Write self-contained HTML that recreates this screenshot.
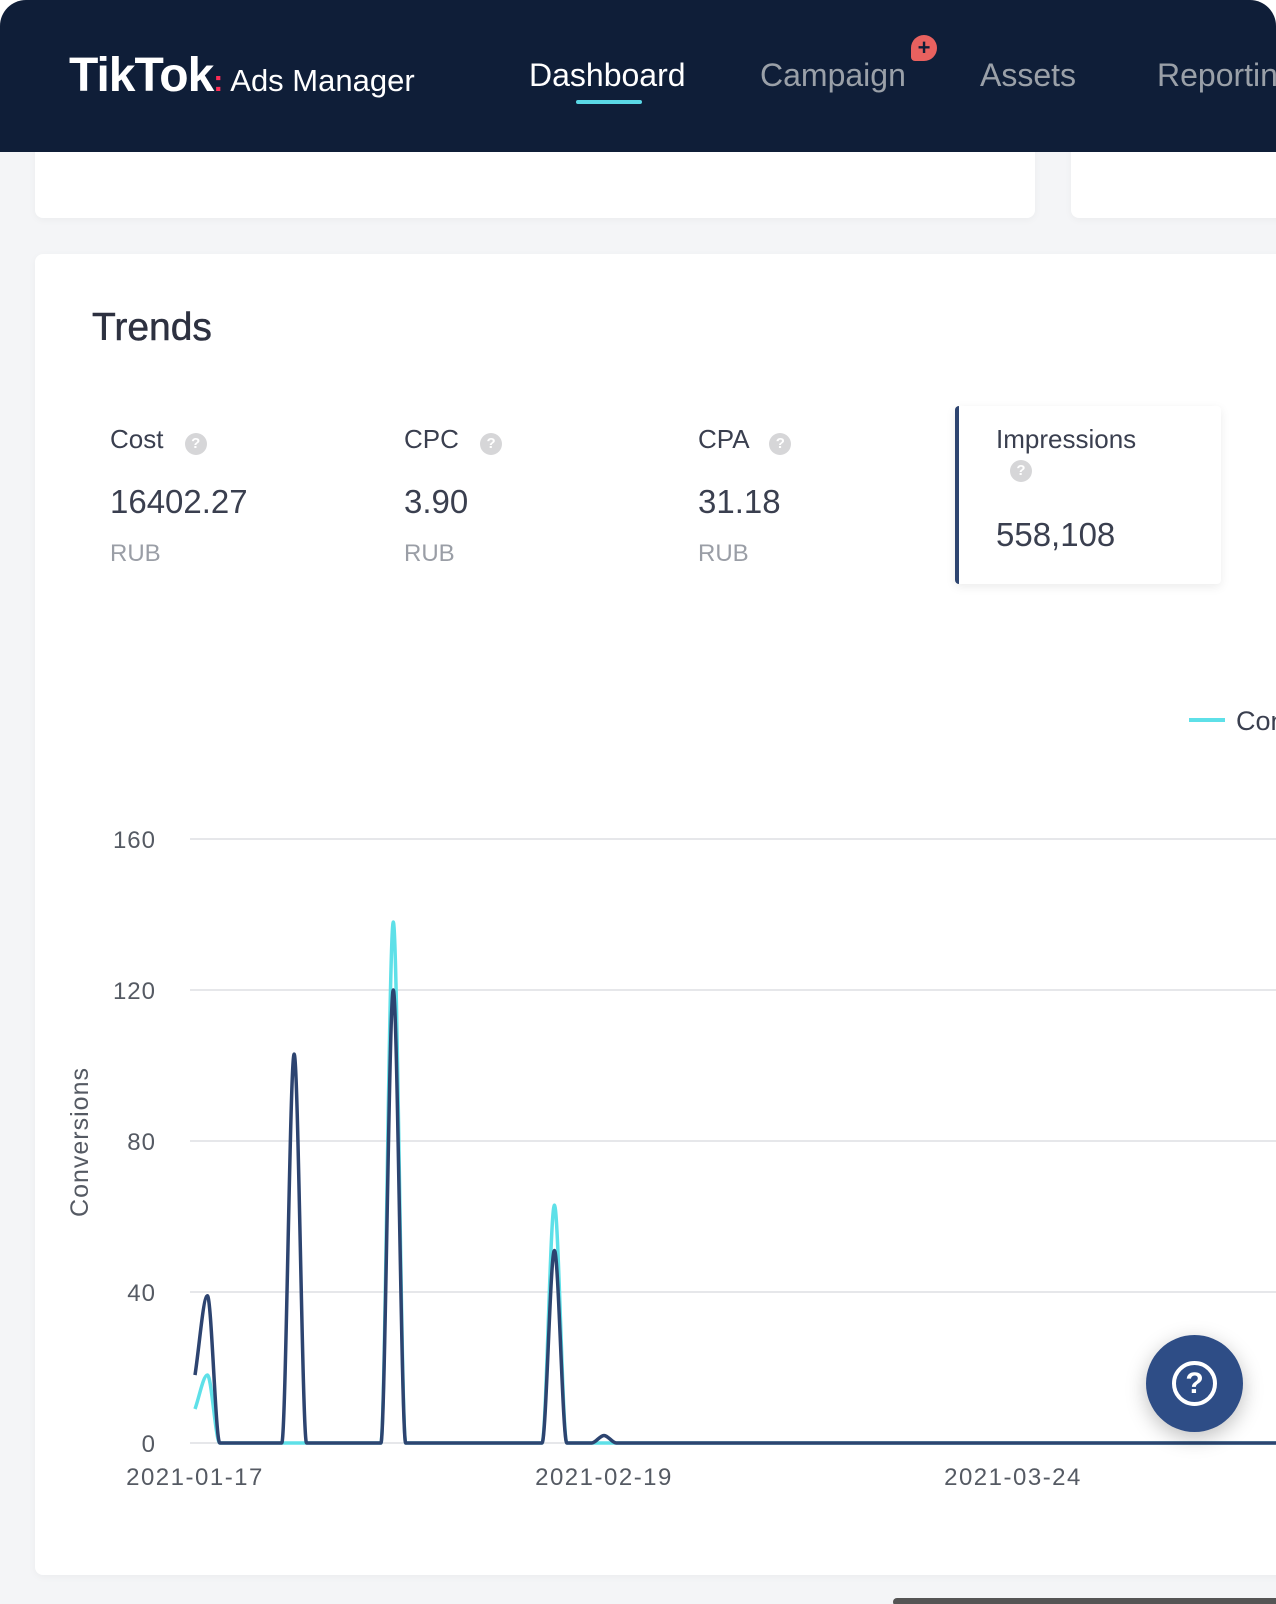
<!DOCTYPE html>
<html><head><meta charset="utf-8">
<style>
*{margin:0;padding:0;box-sizing:border-box}
body{width:1276px;height:1604px;overflow:hidden;background:#fff;font-family:"Liberation Sans",sans-serif;position:relative}
#page{position:absolute;left:0;top:0;width:1276px;height:1604px;background:#f4f5f7;border-radius:26px 26px 0 0;overflow:hidden}
#nav{position:absolute;left:0;top:0;width:1276px;height:152px;background:#0f1e38;z-index:2}
.abs{position:absolute;white-space:nowrap}
.navitem{font-size:32px;color:#9aa0a8;top:57px}
.card{position:absolute;background:#fff;border-radius:8px;box-shadow:0 2px 8px rgba(0,0,0,0.04)}
.lbl{font-size:26px;color:#3a3f4f}
.val{font-size:33px;color:#3a3f4f}
.rub{font-size:24px;color:#9a9ea6}
.q{display:inline-block;width:22px;height:22px;border-radius:50%;background:#d6d6d8;color:#fff;font-size:15px;text-align:center;line-height:22px;font-weight:bold}
</style></head><body>
<div id="page">
<div id="nav">
  <div class="abs" style="left:69px;top:48px;font-size:48px;font-weight:bold;color:#fff;letter-spacing:-1px">TikTok<span style="color:#fe2c55;font-size:30px">:</span><span style="font-size:31px;font-weight:normal;letter-spacing:0;margin-left:8px">Ads Manager</span></div>
  <div class="abs navitem" style="left:529px;color:#fff">Dashboard</div>
  <div class="abs" style="left:576px;top:100px;width:66px;height:4px;background:#5ad8e6;border-radius:2px"></div>
  <div class="abs navitem" style="left:760px">Campaign</div>
  <div class="abs" style="left:911px;top:35px;width:26px;height:26px;border-radius:13px 13px 13px 4px;background:#e8615f;color:#0f1e38;font-size:22px;line-height:25px;text-align:center;font-weight:bold">+</div>
  <div class="abs navitem" style="left:980px">Assets</div>
  <div class="abs navitem" style="left:1157px">Reporting</div>
</div>
<div class="card" style="left:35px;top:140px;width:1000px;height:78px"></div>
<div class="card" style="left:1071px;top:140px;width:260px;height:78px"></div>
<div class="card" style="left:35px;top:254px;width:1300px;height:1321px">
</div>
<div class="abs" style="left:92px;top:306px;font-size:39px;color:#2d3140;-webkit-text-stroke:0.5px #2d3140">Trends</div>
<div class="abs lbl" style="left:110px;top:424px">Cost <span class="q" style="margin-left:14px">?</span></div>
<div class="abs val" style="left:110px;top:483px">16402.27</div>
<div class="abs rub" style="left:110px;top:540px">RUB</div>
<div class="abs lbl" style="left:404px;top:424px">CPC <span class="q" style="margin-left:14px">?</span></div>
<div class="abs val" style="left:404px;top:483px">3.90</div>
<div class="abs rub" style="left:404px;top:540px">RUB</div>
<div class="abs lbl" style="left:698px;top:424px">CPA <span class="q" style="margin-left:14px">?</span></div>
<div class="abs val" style="left:698px;top:483px">31.18</div>
<div class="abs rub" style="left:698px;top:540px">RUB</div>
<div class="abs" style="left:955px;top:406px;width:266px;height:178px;background:#fff;border-left:4px solid #2d4470;border-radius:4px;box-shadow:0 3px 10px rgba(0,0,0,0.08)">
  <div class="abs lbl" style="left:37px;top:18px">Impressions</div>
  <div class="abs q" style="left:51px;top:54px">?</div>
  <div class="abs val" style="left:37px;top:110px">558,108</div>
</div>
<svg id="chart" class="abs" style="left:0;top:0" width="1276" height="1604"></svg>
<div class="abs" style="left:1146px;top:1335px;width:97px;height:97px;border-radius:50%;background:#2e4d86;box-shadow:0 6px 20px rgba(0,0,0,0.25)">
  <div style="position:absolute;left:26px;top:26px;width:45px;height:45px;border:4px solid #fff;border-radius:50%;color:#fff;font-size:30px;font-weight:bold;text-align:center;line-height:38px">?</div>
</div>
<div class="abs" style="left:893px;top:1598px;width:390px;height:8px;background:#555;border-radius:4px"></div>
</div>
<script>
const dates=["2021-01-17","2021-02-19","2021-03-24"];
const dateIdx=[0,33,66];
const yTicks=[0,40,80,120,160];
const seriesDark=[18,39,0,0,0,0,0,0,103,0,0,0,0,0,0,0,120,0,0,0,0,0,0,0,0,0,0,0,0,51,0,0,0,2,0,0,0,0,0,0,0,0,0,0,0,0,0,0,0,0,0,0,0,0,0,0,0,0,0,0,0,0,0,0,0,0,0,0,0,0,0,0,0,0,0,0,0,0,0,0,0,0,0,0,0,0,0,0,0,0,0];
const seriesCyan=[9,18,0,0,0,0,0,0,0,0,0,0,0,0,0,0,138,0,0,0,0,0,0,0,0,0,0,0,0,63,0,0,0,0,0,0,0,0,0,0,0,0,0,0,0,0,0,0,0,0,0,0,0,0,0,0,0,0,0,0,0,0,0,0,0,0,0,0,0,0,0,0,0,0,0,0,0,0,0,0,0,0,0,0,0,0,0,0,0,0,0];
const svg=document.getElementById('chart');
const NS='http://www.w3.org/2000/svg';
const x0=195,dx=409/33,yBase=1443,yScale=151/40;
const X=i=>x0+i*dx, Y=v=>yBase-v*yScale;
function mk(t,a){const e=document.createElementNS(NS,t);for(const k in a)e.setAttribute(k,a[k]);svg.appendChild(e);return e;}
yTicks.forEach(t=>{
 const l=mk('line',{x1:190,x2:1276,y1:Y(t),y2:Y(t),stroke:'#e6e7ea','stroke-width':2});
 
 
 const tx=mk('text',{x:156,y:Y(t)+9,'text-anchor':'end','font-size':24,fill:'#555a63','font-family':'Liberation Sans, sans-serif','letter-spacing':'1'});
 tx.textContent=t;
 
 
});
dates.forEach((d,k)=>{
 const tx=mk('text',{x:X(dateIdx[k]),y:1485,'text-anchor':'middle','font-size':24,fill:'#555a63','font-family':'Liberation Sans, sans-serif','letter-spacing':'1.5'});
 tx.textContent=d;
 
 
});
const yt=mk('text',{x:0,y:0,transform:'translate(88,1142) rotate(-90)','text-anchor':'middle','font-size':25,fill:'#555a63','font-family':'Liberation Sans, sans-serif','letter-spacing':'1'});
yt.textContent='Conversions';


function smooth(vals){
 const n=vals.length,xs=vals.map((v,i)=>X(i)),ys=vals.map(Y);
 const d=[],m=[];
 for(let i=0;i<n-1;i++)d.push((ys[i+1]-ys[i])/(xs[i+1]-xs[i]));
 for(let i=0;i<n;i++){
  if(i==0)m.push(d[0]);else if(i==n-1)m.push(d[n-2]);
  else m.push(d[i-1]*d[i]<=0?0:(d[i-1]+d[i])/2);
 }
 let p='M'+xs[0]+','+ys[0];
 for(let i=0;i<n-1;i++){const h=(xs[i+1]-xs[i])/3;p+=' C'+(xs[i]+h)+','+(ys[i]+m[i]*h)+' '+(xs[i+1]-h)+','+(ys[i+1]-m[i+1]*h)+' '+xs[i+1]+','+ys[i+1];}
 return p;
}
const pc=mk('path',{d:smooth(seriesCyan),fill:'none',stroke:'#5ee0e8','stroke-width':3.5});


const pd=mk('path',{d:smooth(seriesDark),fill:'none',stroke:'#2d4470','stroke-width':3.5});


const ll=mk('line',{x1:1189,x2:1225,y1:720,y2:720,stroke:'#5ee0e8','stroke-width':4});


const lt=mk('text',{x:1236,y:730,'font-size':27,fill:'#3a3f4f','font-family':'Liberation Sans, sans-serif'});
lt.textContent='Conversions';


</script>
</body></html>
